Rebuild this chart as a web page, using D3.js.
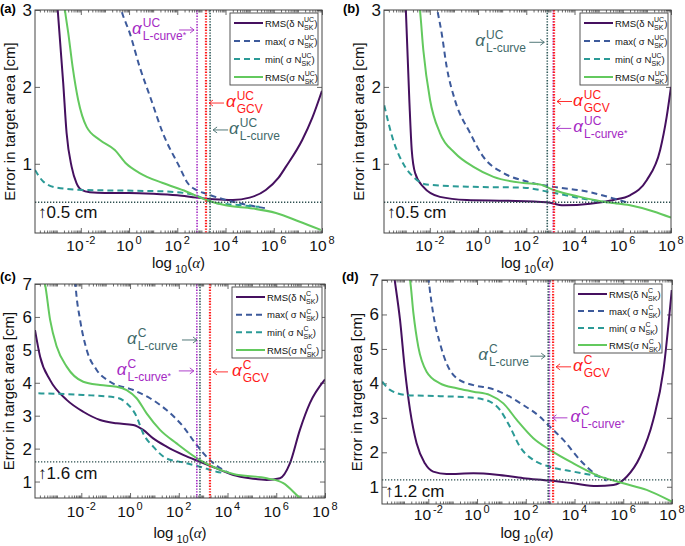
<!DOCTYPE html>
<html><head><meta charset="utf-8">
<script src="https://cdn.jsdelivr.net/npm/d3@7"></script>
<style>
body{margin:0;background:#fff}
svg{display:block}
text{font-family:"Liberation Sans",Arial,Helvetica,sans-serif}
</style>
</head><body>
<svg id="chart" width="685" height="546"></svg>
<script>
// ---------- data (x = log10(alpha), y = error in cm) ----------
const xTickExponents = [-2, 0, 2, 4, 6, 8];
const ucYTicks = [1, 2, 3];
const cYTicks = [1, 2, 3, 4, 5, 6, 7];
const legendBases = ["RMS(\u03B4 N", "max( \u03C3 N", "min( \u03C3 N", "RMS(\u03C3 N"];

// panel (a)
const a_rmsDelta = [[-2.97,3.05],[-2.73,2.05],[-2.59,1.4],[-2.38,0.96],[-2.18,0.75],[-1.97,0.66],[-1.63,0.63],[-1.0,0.62],[0,0.62],[1,0.61],[2,0.59],[2.8,0.56],[3.5,0.54],[4.3,0.53],[5.0,0.56],[5.67,0.66],[6.2,0.82],[6.5,0.96],[7.18,1.31],[7.6,1.6],[8.0,1.95]];
const a_max = [[-0.4,3.1],[-0.32,3.0],[0.03,2.7],[0.44,2.26],[0.92,1.83],[1.4,1.4],[2.09,0.96],[2.43,0.75],[2.78,0.66],[3.2,0.61],[4.02,0.53],[4.98,0.46],[5.7,0.42]];
const a_min = [[-3.9,0.92],[-3.56,0.77],[-3.0,0.69],[-1.9,0.66],[0.15,0.65],[1.54,0.64],[2.78,0.59],[3.2,0.53],[3.6,0.49],[4.3,0.47],[5.0,0.45],[5.4,0.44]];
const a_rmsSigma = [[-2.7,3.1],[-2.66,3.0],[-2.52,2.7],[-2.34,2.26],[-2.11,1.83],[-1.76,1.48],[-1.21,1.31],[-0.59,1.18],[-0.11,1.0],[0.44,0.88],[1.4,0.75],[2.37,0.64],[3.2,0.53],[4.0,0.46],[5.12,0.42],[6.09,0.36],[7.05,0.25],[7.95,0.14]];
const a_alphaMarks = [2.82, 3.19, 3.36];   // L-curve*, GCV, L-curve
const a_level = 0.5;

// panel (b)
const b_rmsDelta = [[-3.0,3.05],[-2.85,1.83],[-2.75,1.18],[-2.61,0.88],[-2.27,0.70],[-1.58,0.57],[-0.47,0.53],[1.19,0.52],[2.85,0.5],[3.54,0.46],[4.65,0.48],[5.61,0.53],[6.3,0.59],[7.0,0.79],[7.55,1.18],[7.82,1.61],[8.0,2.0]];
const b_max = [[-1.75,3.1],[-1.69,3.0],[-1.51,2.7],[-1.3,2.26],[-0.96,1.83],[-0.33,1.4],[0.22,1.09],[1.05,0.88],[2.02,0.77],[3.13,0.7],[4.51,0.64],[5.61,0.55],[6.16,0.5]];
const b_min = [[-3.89,1.76],[-3.52,1.31],[-3.1,1.0],[-2.61,0.81],[-2.13,0.73],[-0.19,0.70],[1.88,0.69],[2.85,0.64],[3.95,0.57],[5.33,0.5],[6.02,0.48]];
const b_rmsSigma = [[-2.45,3.1],[-2.41,3.0],[-2.27,2.48],[-1.99,1.83],[-1.58,1.4],[-0.96,1.14],[-0.19,0.96],[0.64,0.83],[1.88,0.75],[2.57,0.73],[3.13,0.66],[4.23,0.57],[5.33,0.5],[6.3,0.46],[7.28,0.38],[8.0,0.3]];
const b_alphaMarks = [3.12, 3.15, 2.87];
const b_level = 0.5;

// panel (c)
const c_rmsDelta = [[-3.9,5.6],[-3.69,4.79],[-3.28,4.08],[-2.6,3.48],[-1.92,3.12],[-1.23,2.87],[-0.55,2.77],[0.13,2.72],[0.54,2.57],[0.95,2.31],[1.5,2.06],[2.18,1.81],[2.87,1.6],[3.55,1.4],[4.24,1.2],[4.92,1.1],[5.61,1.05],[6.15,1.1],[6.56,1.55],[6.97,2.57],[7.38,3.38],[8.0,4.1]];
const c_max = [[-2.25,7.1],[-2.22,6.82],[-2.05,5.91],[-1.78,5.0],[-1.37,4.39],[-0.82,4.03],[0.13,3.78],[0.82,3.53],[1.5,3.17],[2.18,2.67],[2.73,2.11],[3.28,1.65],[3.83,1.35],[4.1,1.25]];
const c_min = [[-3.76,3.68],[-1.92,3.63],[-0.55,3.55],[-0.14,3.38],[0.27,2.97],[0.54,2.46],[0.95,2.06],[1.5,1.7],[2.18,1.58],[2.87,1.45],[3.55,1.3],[3.9,1.25]];
const c_rmsSigma = [[-3.52,7.1],[-3.49,7.0],[-3.28,5.91],[-3.01,5.1],[-2.6,4.49],[-1.92,4.03],[-1.23,3.93],[-0.55,3.88],[-0.14,3.78],[0.27,3.53],[0.68,3.07],[1.23,2.57],[1.91,2.16],[2.87,1.65],[3.55,1.4],[4.24,1.23],[5.61,1.1],[6.29,0.95],[6.97,0.5],[7.1,0.42]];
const c_alphaMarks = [2.74, 3.28, 2.87];
const c_level = 1.6;

// panel (d)
const d_rmsDelta = [[-3.4,7.1],[-3.37,6.95],[-3.16,5.84],[-2.96,4.39],[-2.75,3.23],[-2.48,2.26],[-2.14,1.68],[-1.8,1.44],[-1.25,1.37],[-0.15,1.39],[0.81,1.35],[1.9,1.25],[2.99,1.18],[3.95,1.1],[4.91,1.02],[5.59,1.05],[6.14,1.29],[6.69,1.87],[7.23,2.94],[7.65,4.39],[7.99,6.71]];
const d_max = [[-2.0,7.1],[-1.96,6.85],[-1.8,6.03],[-1.52,5.16],[-1.25,4.58],[-0.83,4.15],[-0.15,3.95],[0.53,3.86],[1.22,3.66],[1.9,3.37],[2.58,3.03],[2.99,2.74],[3.54,2.36],[4.22,1.78],[4.91,1.34],[5.32,1.18]];
const d_min = [[-3.89,4.05],[-3.57,3.81],[-2.89,3.66],[-1.52,3.63],[-0.15,3.58],[0.53,3.47],[0.94,3.23],[1.35,2.74],[1.76,2.16],[2.31,1.78],[2.99,1.58],[3.95,1.44],[4.91,1.31],[5.3,1.25]];
const d_rmsSigma = [[-2.78,7.1],[-2.75,7.0],[-2.61,6.03],[-2.41,5.06],[-2.07,4.34],[-1.52,4.0],[-0.83,3.86],[-0.15,3.76],[0.53,3.66],[1.08,3.42],[1.63,2.94],[2.31,2.41],[2.99,2.07],[3.95,1.68],[4.91,1.34],[6.0,1.1],[6.96,0.91],[7.99,0.57]];
const d_alphaMarks = [2.97, 3.12, 2.92];
const d_level = 1.2;

// ---------- styles ----------
const seriesStyle = [
  {color:"#45105f", dash:null},
  {color:"#3d5a9b", dash:"6,4"},
  {color:"#2b9a96", dash:"6,4"},
  {color:"#63c95e", dash:null}
];
const markStyle = [
  {color:"#a52ac4", sub:"L-curve", star:true},
  {color:"#ff1a1a", sub:"GCV", star:false},
  {color:"#335c5c", sub:"L-curve", star:false, text:"#3f6a6a"}
];

const panels = [
  {label:"(a)", lx:0, ly:13, left:35, right:322, top:10, bottom:233, yDomain:[0.1,3], yTicks:ucYTicks, sup:"UC",
   series:[a_rmsDelta,a_max,a_min,a_rmsSigma], marks:a_alphaMarks, level:a_level,
   legend:{x:230,y:13,w:88,h:72}, tickBase:18, logBase:268, titleX:15,
   ann:[{dir:1,y:2.74,tx:-65},{dir:-1,y:1.79,tx:20},{dir:-1,y:1.44,tx:19}], levelLabelY:218},
  {label:"(b)", lx:343, ly:13, left:384, right:671, top:10, bottom:233, yDomain:[0.1,3], yTicks:ucYTicks, sup:"UC",
   series:[b_rmsDelta,b_max,b_min,b_rmsSigma], marks:b_alphaMarks, level:b_level,
   legend:{x:580,y:13,w:88,h:72}, tickBase:18, logBase:268, titleX:364,
   ann:[{dir:-1,y:1.46,tx:20},{dir:-1,y:1.81,tx:19},{dir:1,y:2.58,tx:-72}], levelLabelY:218},
  {label:"(c)", lx:0, ly:281, left:35, right:325, top:284, bottom:498, yDomain:[0.5,7], yTicks:cYTicks, sup:"C",
   series:[c_rmsDelta,c_max,c_min,c_rmsSigma], marks:c_alphaMarks, level:c_level,
   legend:{x:232,y:287,w:90,h:71}, tickBase:19, logBase:538, titleX:14,
   ann:[{dir:1,y:4.36,tx:-80},{dir:-1,y:4.33,tx:22},{dir:1,y:5.3,tx:-73}], levelLabelY:479},
  {label:"(d)", lx:342, ly:281, left:382, right:672, top:280, bottom:504, yDomain:[0.5,7], yTicks:cYTicks, sup:"C",
   series:[d_rmsDelta,d_max,d_min,d_rmsSigma], marks:d_alphaMarks, level:d_level,
   legend:{x:574,y:284,w:88,h:69}, tickBase:16, logBase:538, titleX:362,
   ann:[{dir:-1,y:3.0,tx:21},{dir:-1,y:4.48,tx:20},{dir:1,y:4.79,tx:-70}], levelLabelY:497}
];

const svg = d3.select("#chart");
const defs = svg.append("defs");
const AX = "#444";

function stacked(g, x, y, base, sup, sub, tail, o) {
  const t = g.append("text").attr("x", x).attr("y", y).attr("font-size", o.fs).attr("fill", o.fill)
    .attr("font-style", o.baseItalic ? "italic" : null).attr("font-family", o.baseFamily || null).text(base);
  const w = t.node().getComputedTextLength() + (o.gap || 0);
  const s1 = g.append("text").attr("x", x + w).attr("y", y + o.supDy).attr("font-size", o.sfs).attr("fill", o.fill).text(sup);
  const s2 = g.append("text").attr("x", x + w).attr("y", y + o.subDy).attr("font-size", o.sfs).attr("fill", o.fill).text(sub);
  if (o.star) s2.append("tspan").attr("font-size", o.sfs * 0.75).attr("dy", -2).text("*");
  const sw = Math.max(s1.node().getComputedTextLength(), s2.node().getComputedTextLength());
  if (tail) g.append("text").attr("x", x + w + sw).attr("y", y).attr("font-size", o.fs).attr("fill", o.fill).text(tail);
}

panels.forEach((p, pi) => {
  const x = d3.scaleLog().domain([Math.pow(10, -3.9), 1e8]).range([p.left, p.right]);
  const y = d3.scaleLinear().domain(p.yDomain).range([p.bottom, p.top]);
  const X = L => x(Math.pow(10, L));
  const g = svg.append("g");
  const clipId = "clip" + pi;
  defs.append("clipPath").attr("id", clipId).append("rect")
    .attr("x", p.left).attr("y", p.top).attr("width", p.right - p.left).attr("height", p.bottom - p.top);

  // ticks (inside, MATLAB style)
  const major = xTickExponents.map(e => Math.pow(10, e));
  const minor = [];
  for (let e = -4; e < 8; e++) for (let k = 1; k < 10; k++) {
    const v = k * Math.pow(10, e);
    if (v >= Math.pow(10, -3.9) && v <= 1e8 && !(k === 1 && e % 2 === 0)) minor.push(v);
  }
  const tickG = g.append("g").attr("stroke", AX);
  const addAxis = (axis, tf) => {
    const a = tickG.append("g").attr("transform", tf).call(axis);
    a.select(".domain").remove();
    a.selectAll("text").remove();
    a.selectAll("line").attr("stroke", AX).attr("stroke-width", 0.8);
  };
  addAxis(d3.axisBottom(x).tickValues(major).tickSize(-5).tickFormat(""), `translate(0,${p.bottom})`);
  addAxis(d3.axisBottom(x).tickValues(minor).tickSize(-2.5).tickFormat(""), `translate(0,${p.bottom})`);
  addAxis(d3.axisTop(x).tickValues(major).tickSize(-5).tickFormat(""), `translate(0,${p.top})`);
  addAxis(d3.axisTop(x).tickValues(minor).tickSize(-2.5).tickFormat(""), `translate(0,${p.top})`);
  addAxis(d3.axisLeft(y).tickValues(p.yTicks).tickSize(-5).tickFormat(""), `translate(${p.left},0)`);
  addAxis(d3.axisRight(y).tickValues(p.yTicks).tickSize(-5).tickFormat(""), `translate(${p.right},0)`);

  // curves
  const line = d3.line().x(d => X(d[0])).y(d => y(d[1])).curve(d3.curveMonotoneX);
  const cg = g.append("g").attr("clip-path", `url(#${clipId})`);
  p.series.forEach((s, i) => {
    cg.append("path").attr("d", line(s)).attr("fill", "none")
      .attr("stroke", seriesStyle[i].color).attr("stroke-width", 2)
      .attr("stroke-dasharray", seriesStyle[i].dash);
  });

  // horizontal level line
  cg.append("line").attr("x1", p.left).attr("x2", p.right).attr("y1", y(p.level)).attr("y2", y(p.level))
    .attr("stroke", "#2d4f4f").attr("stroke-width", 1.3).attr("stroke-dasharray", "1.3,1.7");
  // vertical alpha lines
  p.marks.forEach((m, i) => {
    cg.append("line").attr("x1", X(m)).attr("x2", X(m)).attr("y1", p.top).attr("y2", p.bottom)
      .attr("stroke", markStyle[i].color).attr("stroke-width", i === 1 ? 2.2 : 1.6).attr("stroke-dasharray", "1.4,1.4");
  });

  // box
  g.append("rect").attr("x", p.left).attr("y", p.top).attr("width", p.right - p.left).attr("height", p.bottom - p.top)
    .attr("fill", "none").attr("stroke", AX).attr("stroke-width", 1);

  // y tick labels
  p.yTicks.forEach(v => {
    g.append("text").attr("x", p.left - 3).attr("y", y(v) + 6).attr("text-anchor", "end")
      .attr("font-size", 17).attr("fill", "#111").text(v);
  });
  // x tick labels
  xTickExponents.forEach(e => {
    const t = g.append("text").attr("x", x(Math.pow(10, e))).attr("y", p.bottom + p.tickBase)
      .attr("text-anchor", "middle").attr("font-size", 15.5).attr("fill", "#111");
    t.append("tspan").text("10");
    t.append("tspan").attr("dx", 2).attr("dy", -7).attr("font-size", 11).text(String(e));
  });
  // x axis title
  const xt = g.append("text").attr("x", (p.left + p.right) / 2).attr("y", p.logBase)
    .attr("text-anchor", "middle").attr("font-size", 15).attr("fill", "#111");
  xt.append("tspan").text("log");
  xt.append("tspan").attr("dx", 3).attr("dy", 5).attr("font-size", 11).text("10");
  xt.append("tspan").attr("dy", -5).text("(");
  xt.append("tspan").attr("font-style", "italic").attr("font-family", "Liberation Serif, serif").text("\u03B1");
  xt.append("tspan").text(")");
  // y axis title
  g.append("text").attr("transform", `translate(${p.titleX},${(p.top + p.bottom) / 2}) rotate(-90)`)
    .attr("text-anchor", "middle").attr("font-size", 15).attr("fill", "#111").text("Error in target area [cm]");
  // panel label
  g.append("text").attr("x", p.lx).attr("y", p.ly).attr("font-size", 13).attr("font-weight", "bold").text(p.label);

  // level label
  g.append("text").attr("x", p.left + 3).attr("y", p.levelLabelY).attr("font-size", 17).attr("fill", "#111")
    .text("\u2191" + p.level.toFixed(1) + " cm");

  // annotations
  p.ann.forEach((a, i) => {
    const lx = X(p.marks[i]);
    const ay = y(a.y);
    const st = markStyle[i];
    const col = st.text || st.color;
    const tip = a.dir > 0 ? lx - 3 : lx + 3;
    const tail = tip - a.dir * 15;
    g.append("path")
      .attr("d", `M${tail},${ay}L${tip},${ay}M${tip - a.dir * 4},${ay - 3}L${tip},${ay}L${tip - a.dir * 4},${ay + 3}`)
      .attr("fill", "none").attr("stroke", col).attr("stroke-width", 0.9);
    stacked(g, lx + a.tx, ay + 4, "\u03B1", p.sup, st.sub, null,
      {fs:17, sfs:12, fill:col, supDy:-7, subDy:6, gap:1, baseItalic:true, baseFamily:"Liberation Serif, serif", star:st.star});
  });

  // legend
  const L = p.legend;
  const lg = g.append("g");
  lg.append("rect").attr("x", L.x).attr("y", L.y).attr("width", L.w).attr("height", L.h)
    .attr("fill", "#fff").attr("stroke", AX).attr("stroke-width", 0.9);
  const step = (L.h - 18) / 3;
  legendBases.forEach((b, i) => {
    const ry = L.y + 10 + i * step;
    lg.append("line").attr("x1", L.x + 4).attr("x2", L.x + 33).attr("y1", ry).attr("y2", ry)
      .attr("stroke", seriesStyle[i].color).attr("stroke-width", 2).attr("stroke-dasharray", seriesStyle[i].dash);
    stacked(lg, L.x + 35, ry + 3.5, b, p.sup, "SK", ")",
      {fs:9.5, sfs:7, fill:"#111", supDy:-4.5, subDy:3});
  });
});
</script>
</body></html>
